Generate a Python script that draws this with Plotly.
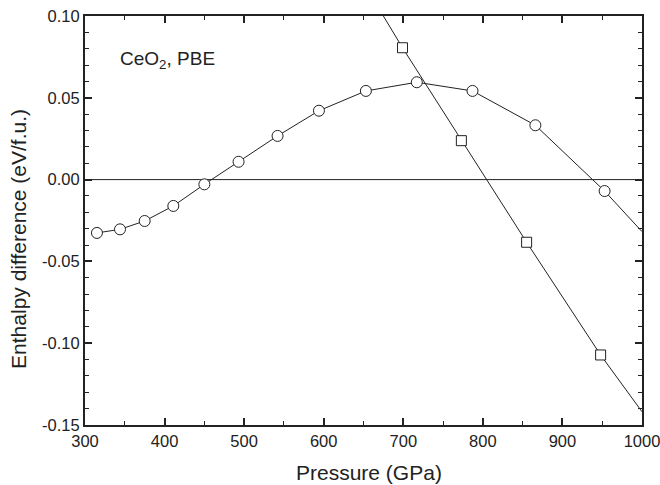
import plotly.graph_objects as go

# Circle series (measured points)
circle_p = [315, 344, 375, 411, 450, 493, 542, 594, 653, 717, 787, 866, 953]
circle_h = [-0.0326, -0.0304, -0.0253, -0.0161, -0.0029, 0.0109, 0.0267, 0.0421,
            0.0542, 0.0595, 0.0542, 0.0332, -0.0070]
# circle curve continues to the right axis
circle_tail_p = [953, 1000]
circle_tail_h = [-0.0070, -0.0318]

# Square series (measured points)
square_p = [699, 773, 855, 948]
square_h = [0.0806, 0.0238, -0.0383, -0.1072]
# square curve extended beyond the measured points
square_head_p = [675, 699]
square_head_h = [0.100, 0.0806]
square_tail_p = [948, 1000]
square_tail_h = [-0.1072, -0.1419]

x_ticks = [300, 400, 500, 600, 700, 800, 900, 1000]
y_ticks = [-0.15, -0.10, -0.05, 0.00, 0.05, 0.10]
y_tick_text = ["-0.15", "-0.10", "-0.05", "0.00", "0.05", "0.10"]

FONT = "Liberation Sans, Arial, Helvetica, sans-serif"
INK = "#222222"

fig = go.Figure()

# zero line
fig.add_trace(go.Scatter(x=[300, 1000], y=[0, 0], mode="lines",
                         line=dict(color=INK, width=1), hoverinfo="skip"))

line_style = dict(color=INK, width=1)

fig.add_trace(go.Scatter(x=circle_tail_p, y=circle_tail_h, mode="lines", line=line_style))
fig.add_trace(go.Scatter(x=square_head_p, y=square_head_h, mode="lines", line=line_style))
fig.add_trace(go.Scatter(x=square_tail_p, y=square_tail_h, mode="lines", line=line_style))

fig.add_trace(go.Scatter(
    x=circle_p, y=circle_h, mode="lines+markers", line=line_style,
    marker=dict(symbol="circle", size=11, color="white", line=dict(color=INK, width=1)),
    cliponaxis=False))
fig.add_trace(go.Scatter(
    x=square_p, y=square_h, mode="lines+markers", line=line_style,
    marker=dict(symbol="square", size=10, color="white", line=dict(color=INK, width=1)),
    cliponaxis=False))

fig.add_annotation(x=342, y=0.0731, xref="x", yref="y", text="CeO<sub>2</sub>, PBE",
                   showarrow=False, xanchor="left", yanchor="middle",
                   font=dict(family=FONT, size=19, color=INK))

# axis titles
fig.add_annotation(x=0.51, y=0, xref="paper", yref="paper", yshift=-47,
                   text="Pressure (GPa)", showarrow=False,
                   xanchor="center", yanchor="middle",
                   font=dict(family=FONT, size=21, color=INK))
fig.add_annotation(x=0, y=0.455, xref="paper", yref="paper", xshift=-66,
                   text="Enthalpy difference (eV/f.u.)", showarrow=False, textangle=-90,
                   xanchor="center", yanchor="middle",
                   font=dict(family=FONT, size=21, color=INK))

axis_common = dict(
    showline=True, linecolor=INK, linewidth=2, mirror="allticks",
    ticks="inside", ticklen=7, tickwidth=1.5, tickcolor=INK,
    showgrid=False, zeroline=False, automargin=False,
    ticklabeloverflow="allow",
    tickfont=dict(family=FONT, size=16.5, color=INK),
)

fig.update_layout(
    width=660, height=485,
    margin=dict(l=85, r=18, t=16, b=60),
    paper_bgcolor="white", plot_bgcolor="white",
    showlegend=False,
    xaxis=dict(
        range=[300, 1000], tickvals=x_ticks,
        minor=dict(dtick=50, ticks="inside", ticklen=4, tickwidth=1, tickcolor=INK),
        **axis_common),
    yaxis=dict(
        range=[-0.15, 0.10], tickvals=y_ticks, ticktext=y_tick_text,
        minor=dict(dtick=0.01, tick0=0, ticks="inside", ticklen=4, tickwidth=1, tickcolor=INK),
        **axis_common),
)

fig.write_html("out.html", config={"displayModeBar": False},
               post_script="document.body.style.margin='0';")
